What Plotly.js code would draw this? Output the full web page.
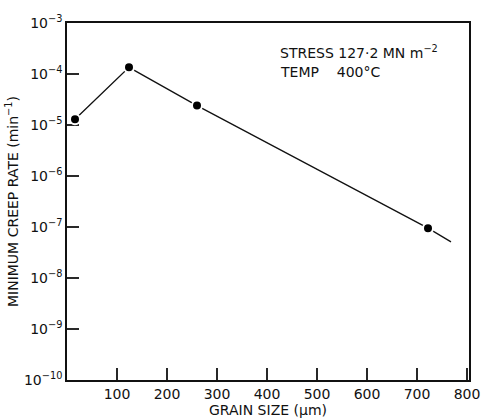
<!DOCTYPE html>
<html><head><meta charset="utf-8">
<script src="https://cdn.plot.ly/plotly-3.0.1.min.js"></script>
<style>body{margin:0;background:#fff}</style>
</head><body><div id="chart" style="width:490px;height:420px"></div>
<script>
// Data
const grainSize = [16, 124, 260, 722];
const creepRate = [1.3e-5, 1.35e-4, 2.4e-5, 9.5e-8];
// fitted line (drawn through the points, with an extension at the end)
const lineX = [16, 124, 260, 722, 768];
const lineY = [1.3e-5, 1.35e-4, 2.4e-5, 9.5e-8, 5.1e-8];
const xTicks = [100, 200, 300, 400, 500, 600, 700, 800];
const yTickVals = [1e-10, 1e-9, 1e-8, 1e-7, 1e-6, 1e-5, 1e-4, 1e-3];
const yTickText = ["10<sup>−10</sup>", "10<sup>−9</sup>", "10<sup>−8</sup>", "10<sup>−7</sup>", "10<sup>−6</sup>", "10<sup>−5</sup>", "10<sup>−4</sup>", "10<sup>−3</sup>"];

const font = {family: "DejaVu Sans, sans-serif", color: "#111"};

const W = 490, H = 420, M = {l: 67, r: 21, t: 23, b: 40};
const xRange = [0, 804], yRange = [-10, -3];
const TICKPX = 12;
// inside tick marks as a line trace (tick length converted from pixels to data units)
const dx = TICKPX / (W - M.l - M.r) * (xRange[1] - xRange[0]);
const dyDec = TICKPX / (H - M.t - M.b) * (yRange[1] - yRange[0]);
const tx = [], ty = [];
xTicks.forEach(v => { tx.push(v, v, null); ty.push(Math.pow(10, yRange[0]), Math.pow(10, yRange[0] + dyDec), null); });
yTickVals.slice(1, -1).forEach(v => { tx.push(xRange[0], xRange[0] + dx, null); ty.push(v, v, null); });

const traces = [
  {x: tx, y: ty, mode: "lines", line: {color: "#111", width: 1.8}, hoverinfo: "skip", connectgaps: false},
  {x: lineX, y: lineY, mode: "lines", line: {color: "#111", width: 1.3}, hoverinfo: "skip"},
  {x: grainSize, y: creepRate, mode: "markers",
   marker: {color: "#000", size: 10, line: {color: "#fff", width: 2}}}
];

const layout = {
  width: W, height: H,
  margin: M,
  showlegend: false,
  paper_bgcolor: "#fff", plot_bgcolor: "#fff",
  font: Object.assign({size: 13}, font),
  xaxis: {
    range: xRange, tickvals: xTicks, ticktext: xTicks.map(String),
    ticks: "",
    showline: true, mirror: true, linecolor: "#111", linewidth: 1.5,
    showgrid: false, zeroline: false,
    tickfont: Object.assign({size: 14}, font),
    title: {text: "GRAIN SIZE (μm)", font: Object.assign({size: 14}, font), standoff: 0}
  },
  yaxis: {
    type: "log", range: yRange, tickvals: yTickVals, ticktext: yTickText,
    ticks: "",
    showline: true, mirror: true, linecolor: "#111", linewidth: 1.5,
    showgrid: false, zeroline: false,
    tickfont: Object.assign({size: 14}, font),
    title: {text: "MINIMUM CREEP RATE (min<sup>−1</sup>)", font: Object.assign({size: 14}, font), standoff: 2}
  },
  annotations: [
    {xref: "paper", yref: "paper", x: 0.525, y: 0.92, xanchor: "left", yanchor: "middle",
     text: "STRESS 127·2 MN m<sup>−2</sup>", showarrow: false, font: Object.assign({size: 14}, font)},
    {xref: "paper", yref: "paper", x: 0.525, y: 0.862, xanchor: "left", yanchor: "middle",
     text: "TEMP    400°C", showarrow: false, font: Object.assign({size: 14}, font)}
  ]
};

Plotly.newPlot("chart", traces, layout, {displayModeBar: false});
</script>
</body></html>
